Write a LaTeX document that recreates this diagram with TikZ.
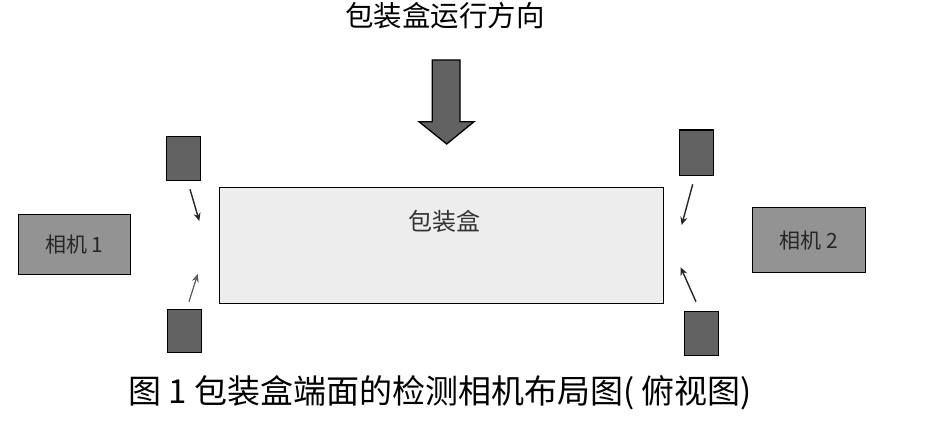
\documentclass[tikz,border=0pt]{standalone}
\usepackage{fontspec}
\newfontfamily\cjk{Noto Sans CJK SC}
\usetikzlibrary{arrows.meta}
\begin{document}
\begin{tikzpicture}[x=1pt,y=-1pt,
  sq/.style={draw=black,line width=1.3pt,fill=gray60},
  cam/.style={draw=black,line width=1.2pt,fill=gray92,inner sep=0pt,font=\cjk\fontsize{21}{21}\selectfont,text=black!85},
  smallarrow/.style={-{Stealth[length=8pt,width=7pt]},line width=1.4pt,draw=black!85}]
\definecolor{gray60}{HTML}{626262}
\definecolor{gray92}{HTML}{939393}
\useasboundingbox (0,0) rectangle (937,441);
% title
\node[font=\cjk\fontsize{28.5}{28.5}\selectfont] (title) at (445,16) {包装盒运行方向};
% big arrow
\draw[line width=1.3pt,fill=gray60,line join=miter] (432.3,60) -- (460,60) -- (460,121.7) -- (474,121.7) -- (446.7,144) -- (419,121.7) -- (432.3,121.7) -- cycle;
% package box
\node[draw=black,line width=1pt,fill=black!7,minimum width=444pt,minimum height=116pt,anchor=north west,inner sep=0pt] (box) at (219.3,186.7) {};
\node[font=\cjk\fontsize{24}{24}\selectfont,text=black!80] (boxlabel) at (444,221) {包装盒};
% cameras
\node[cam,minimum width=112pt,minimum height=60pt,anchor=north west] (cam1) at (17.7,214) {相机 1};
\node[cam,minimum width=113pt,minimum height=65pt,anchor=north west] (cam2) at (752,207) {相机 2};
% small squares
\node[sq,minimum width=34pt,minimum height=44pt,anchor=north west,inner sep=0pt] (s1) at (166,136) {};
\node[sq,minimum width=34pt,minimum height=43pt,anchor=north west,inner sep=0pt] (s2) at (167,309) {};
\node[sq,minimum width=34pt,minimum height=45pt,anchor=north west,inner sep=0pt] (s3) at (679,129.5) {};
\node[sq,minimum width=34pt,minimum height=44pt,anchor=north west,inner sep=0pt] (s4) at (684,311) {};
% small arrows
\coordinate (a1s) at (190,189.3); \coordinate (a1e) at (199.3,221);
\coordinate (a2s) at (189,301.7); \coordinate (a2e) at (197.7,274);
\coordinate (a3s) at (692.7,184.3); \coordinate (a3e) at (681.7,225);
\coordinate (a4s) at (696,301.7); \coordinate (a4e) at (680.7,267.3);
\draw[smallarrow] (a1s) -- (a1e);
\draw[smallarrow,draw=black!65,line width=1.2pt] (a2s) -- (a2e);
\draw[smallarrow] (a3s) -- (a3e);
\draw[smallarrow] (a4s) -- (a4e);
% caption
\node[font=\cjk\fontsize{33}{33}\selectfont] (caption) at (440,393) {图 1 包装盒端面的检测相机布局图( 俯视图)};
\end{tikzpicture}
\end{document}
